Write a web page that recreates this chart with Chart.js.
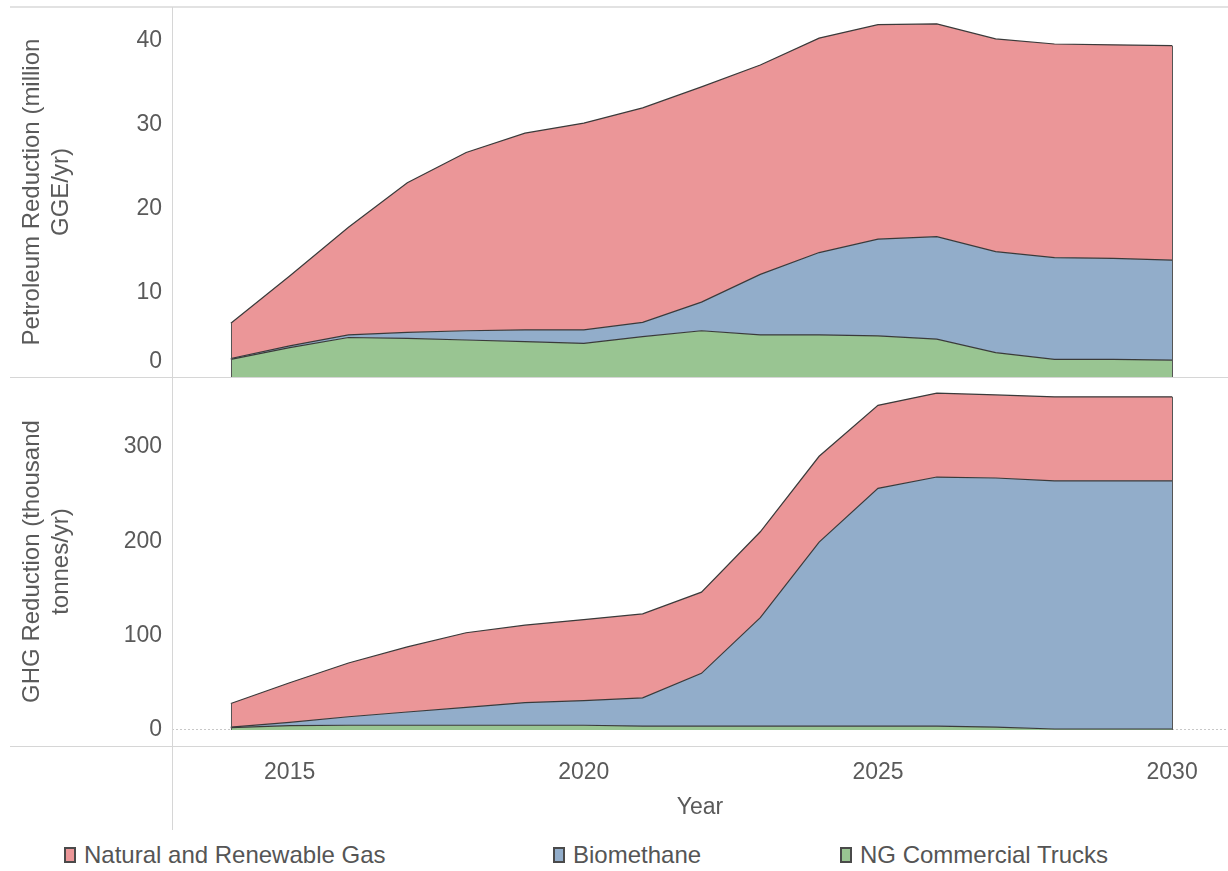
<!DOCTYPE html>
<html>
<head>
<meta charset="utf-8">
<script src="https://cdn.jsdelivr.net/npm/chart.js@4.4.1/dist/chart.umd.min.js"></script>
<style>
  body { margin: 0; background: #fff; font-family: "Liberation Sans", Arial, sans-serif; }
  #wrap { position: relative; width: 1228px; height: 871px; overflow: hidden; }
  .rule { position: absolute; background: #d6d6d6; }
  #topChart { position: absolute; left: 0; top: 0; }
  #bottomChart { position: absolute; left: 0; top: 377px; }
  .item { position: absolute; top: 841px; font-size: 24px; color: #555; display: flex; align-items: center; white-space: nowrap; }
  .item .box { width: 12px; height: 16px; border: 2px solid #4a4a4a; box-sizing: border-box; margin-right: 8px; }
</style>
</head>
<body>
<div id="wrap">
  <canvas id="topChart" width="1228" height="377"></canvas>
  <canvas id="bottomChart" width="1228" height="453"></canvas>
  <div class="rule" style="left:10px; top:6px; width:1218px; height:2px; background:#e2e2e2"></div>
  <div class="rule" style="left:10px; top:377px; width:1218px; height:1px"></div>
  <div class="rule" style="left:10px; top:746px; width:1218px; height:1px"></div>
  <div class="rule" style="left:172px; top:7px; width:1px; height:823px"></div>
  <div id="legend"></div>
</div>
<script>
const years = [2014, 2015, 2016, 2017, 2018, 2019, 2020, 2021, 2022, 2023, 2024, 2025, 2026, 2027, 2028, 2029, 2030];
const yearTicks = [2015, 2020, 2025, 2030];

// million GGE/yr
const petroGas    = [4.2, 8.3, 12.8, 17.8, 21.2, 23.4, 24.6, 25.5, 25.6, 24.9, 25.5, 25.5, 25.3, 25.3, 25.4, 25.4, 25.5];
const petroBio    = [0.1, 0.2, 0.3, 0.7, 1.1, 1.4, 1.6, 1.7, 3.4, 7.2, 9.8, 11.5, 12.2, 12.0, 12.1, 12.0, 11.9];
const petroTrucks = [2.1, 3.5, 4.7, 4.6, 4.4, 4.2, 4.0, 4.8, 5.5, 5.0, 5.0, 4.9, 4.5, 2.9, 2.1, 2.1, 2.0];
const petroTicks  = [0, 10, 20, 30, 40];

// thousand tonnes/yr
const ghgGas    = [25, 42, 57, 69, 79, 82, 86, 89, 86, 91, 91, 88, 89, 88, 89, 89, 89];
const ghgBio    = [0.5, 3.5, 9, 14, 19, 24, 26, 30, 56, 115, 195, 252, 264, 264, 263, 263, 263];
const ghgTrucks = [2.5, 4.5, 5, 5, 5, 5, 5, 4, 4, 4, 4, 4, 4, 3, 1, 1, 1];
const ghgTicks  = [0, 100, 200, 300];

const seriesNames = ['NG Commercial Trucks', 'Biomethane', 'Natural and Renewable Gas'];
const seriesColors = ['rgb(153,197,146)', 'rgb(146,173,202)', 'rgb(235,150,152)'];

const fontFamily = '"Liberation Sans", Arial, sans-serif';
const tickFont = { family: fontFamily, size: 23 };
const titleFont = { family: fontFamily, size: 24 };
const textColor = '#5a5a5a';

function toPoints(vals) {
  return vals.map((v, i) => ({ x: years[i], y: v }));
}

function makeDatasets(trucks, bio, gas) {
  return [trucks, bio, gas].map((vals, i) => ({
    label: seriesNames[i],
    data: toPoints(vals),
    backgroundColor: seriesColors[i],
    borderColor: '#3a3a3a',
    borderWidth: 1.2,
    pointRadius: 0,
    tension: 0,
    fill: i === 0 ? 'origin' : '-1'
  }));
}

// vertical outline at both ends of the stacked areas
const edgeLines = {
  id: 'edgeLines',
  afterDatasetsDraw(chart) {
    const ctx = chart.ctx;
    const pts = chart.getDatasetMeta(2).data;
    const y0 = chart.scales.y.getPixelForValue(0);
    ctx.save();
    ctx.strokeStyle = '#555';
    ctx.lineWidth = 1;
    [pts[0], pts[pts.length - 1]].forEach(p => {
      ctx.beginPath();
      ctx.moveTo(Math.round(p.x) + 0.5, y0);
      ctx.lineTo(Math.round(p.x) + 0.5, p.y);
      ctx.stroke();
    });
    ctx.restore();
  }
};

// the top panel puts its zero label just above the baseline
const zeroLabel = {
  id: 'zeroLabel',
  afterDraw(chart) {
    const s = chart.scales.y;
    const ctx = chart.ctx;
    ctx.save();
    ctx.font = tickFont.size + 'px ' + tickFont.family;
    ctx.fillStyle = textColor;
    ctx.textAlign = 'right';
    ctx.textBaseline = 'middle';
    ctx.fillText('0', s.right - 10, s.getPixelForValue(0) - 15);
    ctx.restore();
  }
};

function yAxis(min, max, ticks, title, hideZero) {
  return {
    type: 'linear',
    stacked: true,
    min: min,
    max: max,
    afterBuildTicks: s => { s.ticks = ticks.map(v => ({ value: v })); },
    afterFit: s => {
      s.width = 172;
      // panels butt against each other, no room kept for overhanging labels
      s.paddingTop = 0;
      s.paddingBottom = 0;
    },
    grid: {
      drawTicks: false,
      color: c => (c.tick && c.tick.value === 0 && !hideZero) ? '#c8c8c8' : 'rgba(0,0,0,0)',
      lineWidth: 1
    },
    border: { display: false, dash: [2, 2] },
    ticks: {
      padding: 10,
      color: textColor,
      font: tickFont,
      callback: v => (hideZero && v === 0) ? '' : String(v)
    },
    title: {
      display: true,
      text: title,
      color: textColor,
      font: titleFont,
      padding: { top: 18, bottom: 0 }
    }
  };
}

function xAxis(show) {
  return {
    type: 'linear',
    min: 2013,
    max: 2030.95,
    display: show,
    afterBuildTicks: s => { s.ticks = yearTicks.map(v => ({ value: v })); },
    afterFit: s => {
      s.height = show ? 84 : 0;
      s.paddingLeft = 0;
      s.paddingRight = 0;
    },
    grid: { display: false, drawTicks: false },
    border: { display: false },
    ticks: { padding: 13, color: textColor, font: tickFont, maxRotation: 0, callback: v => String(v) },
    title: { display: true, text: 'Year', color: textColor, font: tickFont, padding: { top: 0, bottom: 9 } }
  };
}

const baseOptions = {
  responsive: false,
  animation: false,
  events: [],
  plugins: { legend: { display: false }, tooltip: { enabled: false } }
};

new Chart(document.getElementById('topChart').getContext('2d'), {
  type: 'line',
  data: { datasets: makeDatasets(petroTrucks, petroBio, petroGas) },
  options: Object.assign({}, baseOptions, {
    layout: { padding: { top: 7, right: 0, bottom: 0, left: 0 } },
    scales: {
      x: xAxis(false),
      y: yAxis(0, 44, petroTicks, ['Petroleum Reduction (million', 'GGE/yr)'], true)
    }
  }),
  plugins: [edgeLines, zeroLabel]
});

new Chart(document.getElementById('bottomChart').getContext('2d'), {
  type: 'line',
  data: { datasets: makeDatasets(ghgTrucks, ghgBio, ghgGas) },
  options: Object.assign({}, baseOptions, {
    layout: { padding: 0 },
    scales: {
      x: xAxis(true),
      y: yAxis(-17, 374, ghgTicks, ['GHG Reduction (thousand', 'tonnes/yr)'], false)
    }
  }),
  plugins: [edgeLines]
});

// legend, in the order the areas are stacked from the top
const legendLeft = [64, 553, 840];
const legend = document.getElementById('legend');
[2, 1, 0].forEach((si, k) => {
  const item = document.createElement('div');
  item.className = 'item';
  item.style.left = legendLeft[k] + 'px';
  const box = document.createElement('span');
  box.className = 'box';
  box.style.background = seriesColors[si];
  const label = document.createElement('span');
  label.textContent = seriesNames[si];
  item.appendChild(box);
  item.appendChild(label);
  legend.appendChild(item);
});
</script>
</body>
</html>
